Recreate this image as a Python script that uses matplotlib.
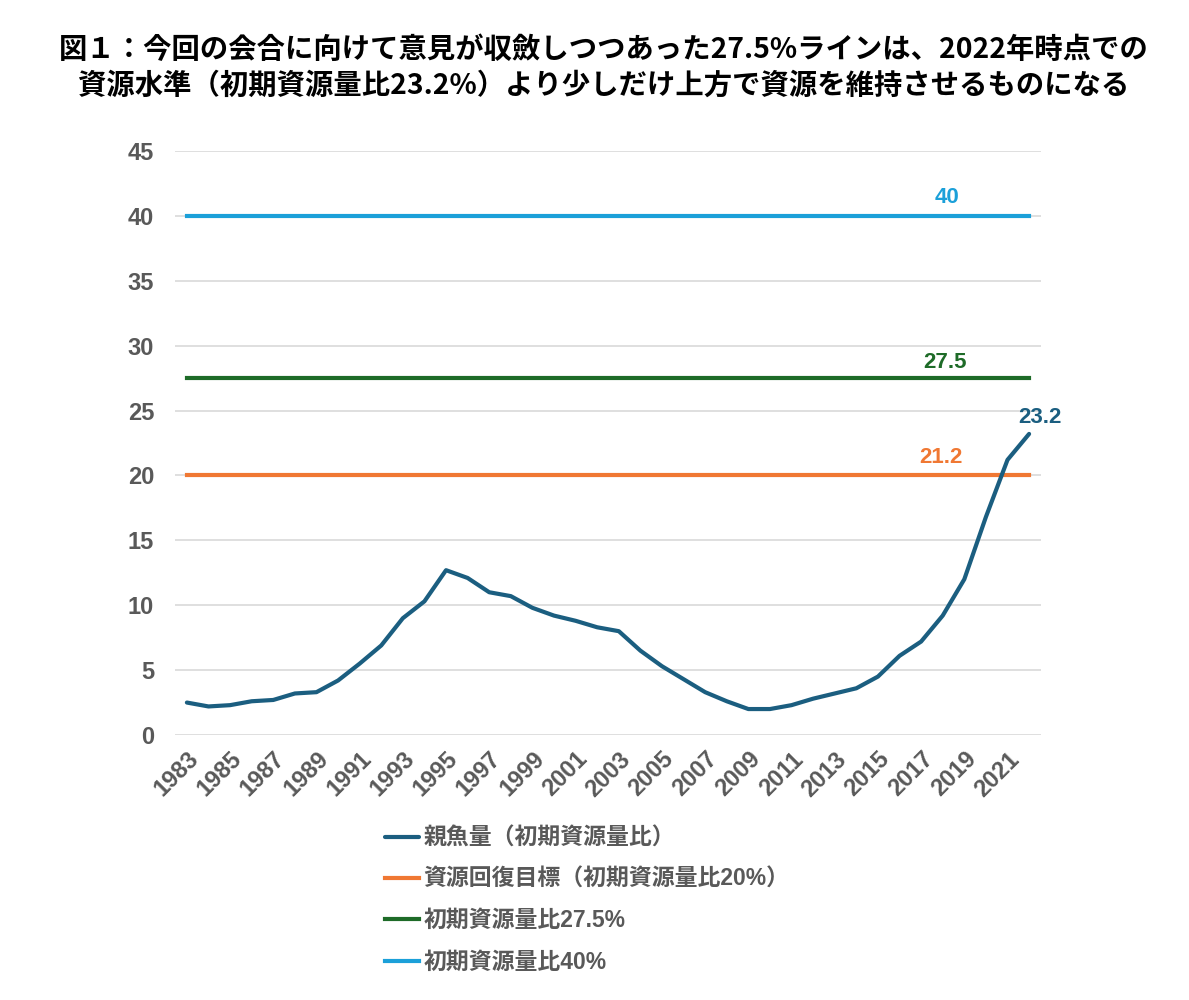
import numpy as np
import matplotlib.pyplot as plt

plt.rcParams['font.family'] = ['Liberation Sans', 'Noto Sans CJK JP', 'DejaVu Sans']

years = np.arange(1983, 2023)
spawning = [2.5, 2.2, 2.3, 2.6, 2.7, 3.2, 3.3, 4.2, 5.5, 6.9,
            9.0, 10.3, 12.7, 12.1, 11.0, 10.7, 9.8, 9.2, 8.8, 8.3,
            8.0, 6.5, 5.3, 4.3, 3.3, 2.6, 2.0, 2.0, 2.3, 2.8,
            3.2, 3.6, 4.5, 6.1, 7.2, 9.2, 12.0, 16.8, 21.2, 23.2]
level_target = 20
level_275 = 27.5
level_40 = 40

labels = ['親魚量（初期資源量比）', '資源回復目標（初期資源量比20%）',
          '初期資源量比27.5%', '初期資源量比40%']
title = ('図１：今回の会合に向けて意見が収斂しつつあった27.5%ラインは、2022年時点での\n'
         '資源水準（初期資源量比23.2%）より少しだけ上方で資源を維持させるものになる')

c_blue = '#1B5E80'
c_orange = '#F07833'
c_green = '#1E6B28'
c_light = '#1BA0D9'
grey = '#595959'

fig = plt.figure(figsize=(11.89, 10), dpi=100)
ax = fig.add_axes([0.1472, 0.265, 0.7283, 0.584])

ax.plot(years, spawning, color=c_blue, lw=3, label=labels[0], solid_capstyle='round', zorder=5)
ax.plot(years, np.full(len(years), level_target), color=c_orange, lw=3, label=labels[1])
ax.plot(years, np.full(len(years), level_275), color=c_green, lw=3, label=labels[2])
ax.plot(years, np.full(len(years), level_40), color=c_light, lw=3, label=labels[3])

ax.text(2018.2, 41.45, '40', color=c_light, fontsize=16, fontweight='bold', ha='center', va='center')
ax.text(2018.1, 28.7, '27.5', color=c_green, fontsize=16, fontweight='bold', ha='center', va='center')
ax.text(2017.9, 21.4, '21.2', color=c_orange, fontsize=16, fontweight='bold', ha='center', va='center')
ax.text(2022.5, 24.5, '23.2', color=c_blue, fontsize=16, fontweight='bold', ha='center', va='center')

ax.set_xlim(1982.45, 2022.55)
ax.set_ylim(0, 45)
ax.set_yticks(np.arange(0, 46, 5))
ax.set_xticks(years[::2])
ax.set_xticklabels([str(y) for y in years[::2]], rotation=45, ha='right', rotation_mode='anchor')
ax.tick_params(axis='both', length=0, labelsize=17, labelcolor=grey)
ax.tick_params(axis='y', pad=15)
ax.tick_params(axis='x', pad=9)
for lab in ax.get_xticklabels() + ax.get_yticklabels():
    lab.set_fontweight('bold')
ax.grid(axis='y', color='#d9d9d9', lw=1.2)
ax.set_axisbelow(True)
for s in ax.spines.values():
    s.set_visible(False)

leg = fig.legend(loc='upper left', bbox_to_anchor=(364 / 1189, 1 - 806 / 1000), frameon=False,
                 prop={'size': 16.5, 'weight': 'bold'}, handlelength=1.5, handletextpad=0.2,
                 labelspacing=0.8)
for t in leg.get_texts():
    t.set_color(grey)

fig.text(0.508, 0.932, title, ha='center', va='center', fontsize=20.4, fontweight='bold',
         family=['Noto Sans CJK JP', 'DejaVu Sans'], linespacing=1.35)

fig.savefig('out.png', dpi=100)
